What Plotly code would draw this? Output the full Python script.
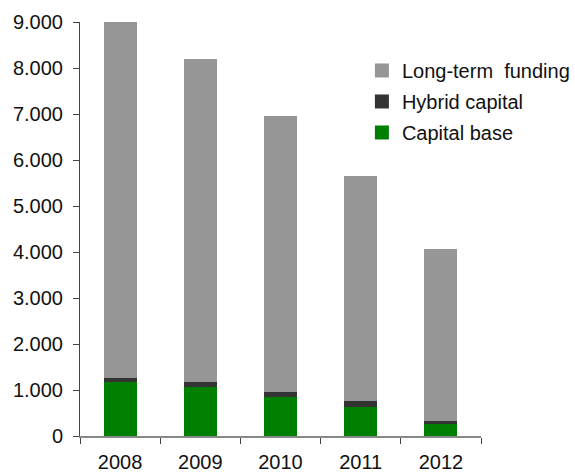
import plotly.graph_objects as go

years = ["2008", "2009", "2010", "2011", "2012"]
capital_base = [1180, 1070, 850, 630, 260]
hybrid_capital = [90, 110, 110, 130, 60]
long_term_funding = [7760, 7020, 5990, 4900, 3750]

series = [
    ("Capital base", capital_base, "#008000"),
    ("Hybrid capital", hybrid_capital, "#333333"),
    ("Long-term  funding", long_term_funding, "#969696"),
]

fig = go.Figure()
for name, vals, col in series:
    fig.add_trace(go.Bar(x=years, y=vals, name=name, showlegend=False,
                         marker=dict(color=col, line=dict(width=0))))
# legend entries (square markers), top to bottom
for name, vals, col in reversed(series):
    fig.add_trace(go.Scatter(x=[None], y=[None], mode="markers", name=name,
                             legendgroup=name,
                             marker=dict(symbol="square", size=14, color=col)))

fig.update_layout(
    width=575, height=474,
    barmode="stack", bargap=0.59,
    separators=",.",
    paper_bgcolor="white", plot_bgcolor="white",
    margin=dict(l=80, r=94, t=22, b=38, autoexpand=False),
    font=dict(family="Liberation Sans, Arial, sans-serif", size=20, color="#111111"),
    legend=dict(
        traceorder="grouped",
        x=0.703, y=0.93, xanchor="left", yanchor="top",
        xref="paper", yref="paper",
        font=dict(size=20, color="#111111"),
        bgcolor="rgba(0,0,0,0)",
        itemwidth=30, tracegroupgap=2,
    ),
    showlegend=True,
)
fig.update_xaxes(
    type="category", showgrid=False, showline=True, linecolor="#888888", linewidth=2,
    ticks="outside", tickson="boundaries", ticklen=6, tickcolor="#444444", tickwidth=1,
    tickfont=dict(size=20), ticklabelstandoff=7, range=[-0.5, 4.5],
)
fig.update_yaxes(
    range=[0, 9000], dtick=1000, tickformat=",d", showgrid=False, zeroline=False,
    showline=True, linecolor="#444444", linewidth=1,
    ticks="outside", ticklen=6, tickcolor="#444444", tickwidth=1,
    tickfont=dict(size=20), ticklabelstandoff=6,
)

fig.write_html("out.html")
